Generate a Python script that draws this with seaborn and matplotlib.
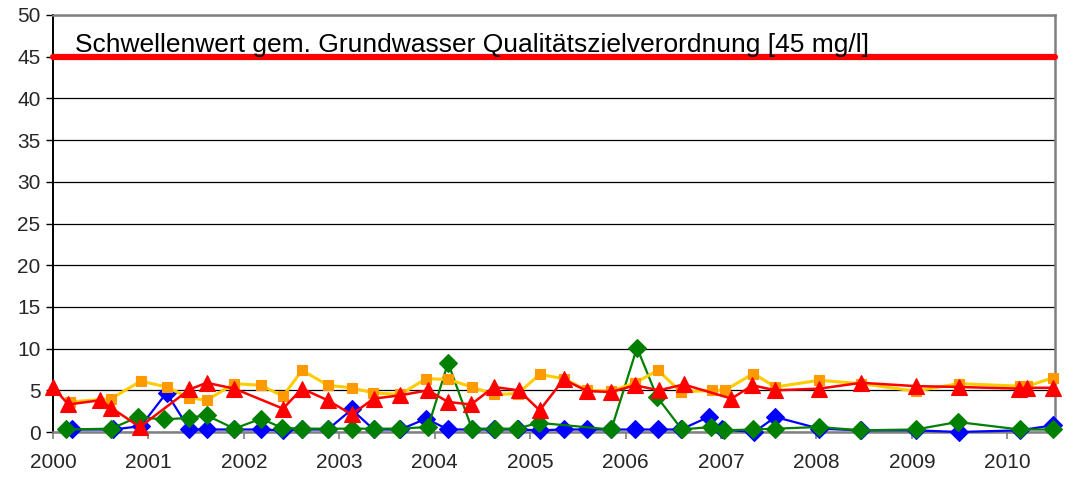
import matplotlib
matplotlib.use("Agg")
import matplotlib.pyplot as plt
import pandas as pd
import seaborn as sns

# ---- data (mg/l, sampling dates as decimal years) ----
years = list(range(2000, 2011))
y_ticks = list(range(0, 51, 5))

threshold_label = "Schwellenwert gem. Grundwasser Qualitätszielverordnung [45 mg/l]"
threshold_value = 45

blue_x = [2000.20, 2000.63, 2000.92, 2001.19, 2001.43, 2001.61, 2001.90, 2002.18,
          2002.41, 2002.61, 2002.88, 2003.13, 2003.36, 2003.64, 2003.91, 2004.14,
          2004.39, 2004.62, 2004.87, 2005.10, 2005.35, 2005.60, 2005.85, 2006.10,
          2006.34, 2006.58, 2006.87, 2007.01, 2007.35, 2007.57, 2008.03, 2008.47,
          2009.04, 2009.49, 2010.13, 2010.48]
blue_y = [0.3, 0.3, 0.7, 4.7, 0.3, 0.3, 0.3, 0.3,
          0.2, 0.3, 0.3, 2.7, 0.3, 0.3, 1.6, 0.3,
          0.3, 0.3, 0.3, 0.2, 0.3, 0.3, 0.3, 0.3,
          0.3, 0.3, 1.8, 0.3, 0.0, 1.8, 0.4, 0.2,
          0.2, 0.0, 0.2, 0.8]

green_x = [2000.14, 2000.61, 2000.89, 2001.16, 2001.42, 2001.61, 2001.90, 2002.18,
           2002.40, 2002.61, 2002.88, 2003.13, 2003.36, 2003.63, 2003.93, 2004.14,
           2004.39, 2004.63, 2004.86, 2005.09, 2005.85, 2006.12, 2006.33, 2006.59,
           2006.89, 2007.03, 2007.34, 2007.57, 2008.03, 2008.46, 2009.04, 2009.48,
           2010.13, 2010.48]
green_y = [0.3, 0.4, 1.8, 1.5, 1.7, 2.0, 0.4, 1.6,
           0.5, 0.4, 0.4, 0.4, 0.4, 0.4, 0.6, 8.3,
           0.4, 0.4, 0.4, 1.1, 0.3, 10.1, 4.2, 0.3,
           0.6, 0.2, 0.3, 0.4, 0.6, 0.2, 0.3, 1.2,
           0.3, 0.3]

orange_x = [2000.18, 2000.61, 2000.92, 2001.19, 2001.43, 2001.61, 2001.90, 2002.18,
            2002.41, 2002.61, 2002.88, 2003.13, 2003.35, 2003.64, 2003.91, 2004.14,
            2004.39, 2004.62, 2004.87, 2005.10, 2005.35, 2005.60, 2005.85, 2006.10,
            2006.34, 2006.58, 2006.91, 2007.04, 2007.34, 2007.57, 2008.03, 2008.47,
            2009.04, 2009.49, 2010.13, 2010.21, 2010.48]
orange_y = [3.6, 4.0, 6.1, 5.4, 4.1, 3.8, 5.8, 5.6,
            4.3, 7.4, 5.6, 5.3, 4.7, 4.5, 6.4, 6.3,
            5.4, 4.5, 4.6, 6.9, 6.4, 5.0, 4.9, 5.9,
            7.4, 4.8, 5.0, 5.0, 7.0, 5.4, 6.2, 5.8,
            4.9, 5.8, 5.5, 5.5, 6.5]

red_x = [2000.00, 2000.16, 2000.49, 2000.61, 2000.91, 2001.43, 2001.61, 2001.90,
         2002.41, 2002.61, 2002.88, 2003.13, 2003.36, 2003.64, 2003.93, 2004.14,
         2004.38, 2004.62, 2004.88, 2005.10, 2005.35, 2005.60, 2005.85, 2006.10,
         2006.35, 2006.61, 2007.11, 2007.33, 2007.57, 2008.03, 2008.47, 2009.04,
         2009.49, 2010.12, 2010.21, 2010.48]
red_y = [5.4, 3.3, 3.8, 2.9, 0.6, 5.1, 5.9, 5.2,
         2.8, 5.2, 3.8, 2.1, 4.0, 4.4, 5.0, 3.6,
         3.3, 5.4, 5.0, 2.6, 6.3, 4.9, 4.8, 5.6,
         5.0, 5.7, 4.0, 5.6, 5.0, 5.2, 5.9, 5.5,
         5.4, 5.2, 5.3, 5.3]

# ---- styling ----
sns.set_theme(style="white")
plt.rcParams["font.family"] = ["Liberation Sans", "DejaVu Sans"]

fig = plt.figure(figsize=(10.73, 4.80), dpi=100)
ax = fig.add_axes([53 / 1073, 48 / 480, 1002 / 1073, 417 / 480])

series = [
    (blue_x, blue_y, "#0000FF", "#0000FF", "D", 9.0, 1.6),
    (green_x, green_y, "#008000", "#008000", "D", 9.0, 1.6),
    (orange_x, orange_y, "#FFCC00", "#FF9900", "s", 7.5, 2.2),
    (red_x, red_y, "#FF0000", "#FF0000", "^", 11.5, 1.8),
]
for z, (xs, ys, lc, mc, mk, ms, lw) in enumerate(series):
    df = pd.DataFrame({"Jahr": xs, "Wert": ys})
    sns.lineplot(data=df, x="Jahr", y="Wert", ax=ax, sort=False, color=lc,
                 linewidth=lw, marker=mk, markersize=ms, markerfacecolor=mc,
                 markeredgecolor=mc, markeredgewidth=0.8, zorder=3 + z,
                 clip_on=False)

# threshold line
thr = pd.DataFrame({"Jahr": [years[0], 2010.5],
                    "Wert": [threshold_value, threshold_value]})
sns.lineplot(data=thr, x="Jahr", y="Wert", ax=ax, color="#FF0000",
             linewidth=4.5, solid_capstyle="round", zorder=10, clip_on=False)
ax.text(2000.23, 45.55, threshold_label, fontsize=19, color="black",
        ha="left", va="baseline", zorder=11)

ax.set_xlim(2000, 2010.5)
ax.set_ylim(0, 50)
ax.set_xticks(years)
ax.set_xticklabels([str(y) for y in years])
ax.set_yticks(y_ticks)
ax.set_yticklabels([str(v) for v in y_ticks])
ax.set_xlabel("")
ax.set_ylabel("")

ax.yaxis.grid(True, color="black", linewidth=0.9)
ax.xaxis.grid(False)
ax.set_axisbelow(True)

for side in ("top", "right", "bottom"):
    ax.spines[side].set_color("#808080")
    ax.spines[side].set_linewidth(1.8)
ax.spines["left"].set_color("black")
ax.spines["left"].set_linewidth(1.4)

ax.tick_params(axis="y", direction="out", length=5, width=1.0, color="black",
               labelsize=15, pad=4, left=True)
ax.tick_params(axis="x", direction="out", length=5, width=1.2, color="#808080",
               labelsize=15, pad=10, bottom=True)

fig.savefig("out.png", dpi=100)
